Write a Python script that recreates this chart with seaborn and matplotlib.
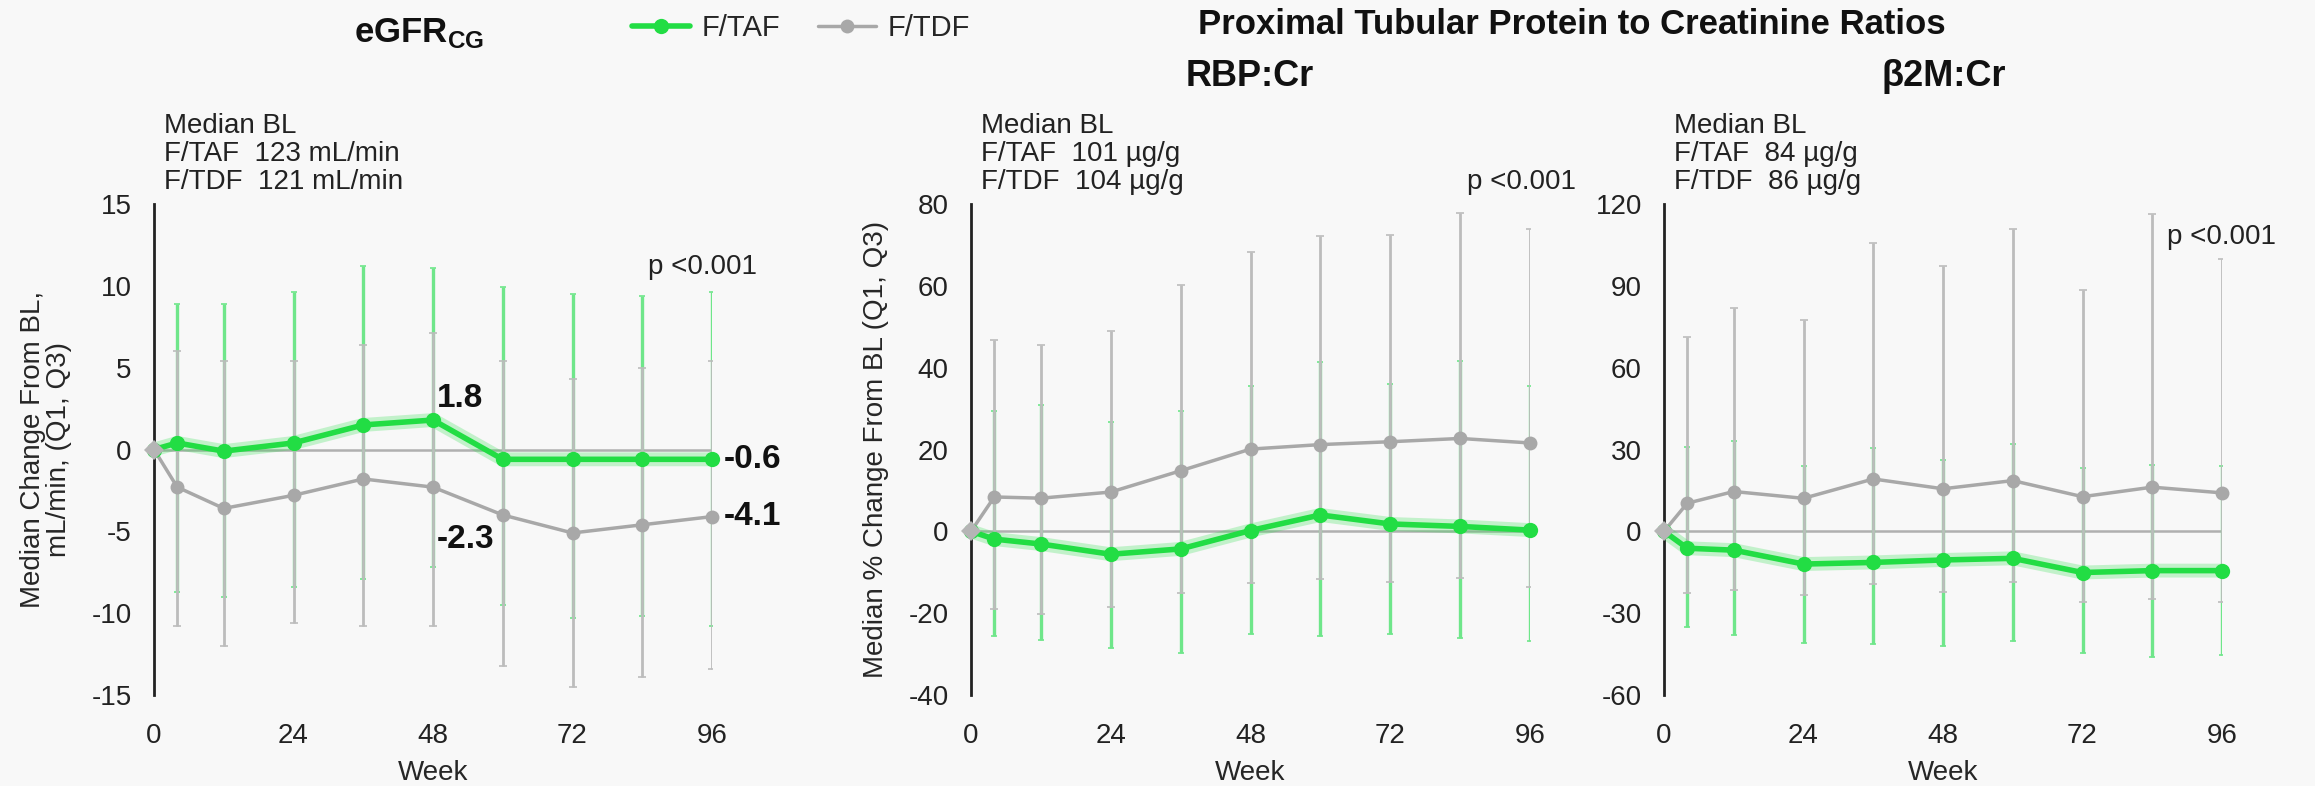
import matplotlib
matplotlib.use('Agg')
import matplotlib.pyplot as plt
from matplotlib.lines import Line2D
import numpy as np
import pandas as pd
import seaborn as sns

# weeks on study
weeks = [0, 4, 12, 24, 36, 48, 60, 72, 84, 96]

# eGFR (CG), median change from BL with Q1/Q3
egfr_taf_med = [0, 0.4, -0.1, 0.4, 1.5, 1.8, -0.6, -0.6, -0.6, -0.6]
egfr_taf_q1 = [0, -8.7, -9.0, -8.4, -7.9, -7.2, -9.5, -10.3, -10.2, -10.8]
egfr_taf_q3 = [0, 8.9, 8.9, 9.6, 11.2, 11.1, 9.9, 9.5, 9.4, 9.6]
egfr_tdf_med = [0, -2.3, -3.6, -2.8, -1.8, -2.3, -4.0, -5.1, -4.6, -4.1]
egfr_tdf_q1 = [0, -10.8, -12.0, -10.6, -10.8, -10.8, -13.2, -14.5, -13.9, -13.4]
egfr_tdf_q3 = [0, 6.0, 5.4, 5.4, 6.4, 7.1, 5.4, 4.3, 5.0, 5.4]

# RBP:Cr, median % change from BL
rbp_taf_med = [0, -1.9, -3.1, -5.6, -4.3, 0.2, 4.0, 1.8, 1.2, 0.3]
rbp_taf_q1 = [0, -25.7, -26.5, -28.5, -29.8, -25.2, -25.7, -25.2, -26.1, -26.9]
rbp_taf_q3 = [0, 29.3, 30.9, 26.8, 29.3, 35.6, 41.3, 36.0, 41.7, 35.6]
rbp_tdf_med = [0, 8.4, 8.1, 9.6, 14.8, 20.1, 21.2, 21.9, 22.7, 21.6]
rbp_tdf_q1 = [0, -19.1, -20.3, -18.5, -15.0, -12.7, -11.6, -12.4, -11.3, -13.5]
rbp_tdf_q3 = [0, 46.7, 45.6, 48.9, 60.1, 68.3, 72.2, 72.4, 77.8, 73.8]

# b2M:Cr, median % change from BL
b2m_taf_med = [0, -6.2, -6.9, -12.0, -11.4, -10.5, -9.9, -15.1, -14.4, -14.4]
b2m_taf_q1 = [0, -35.0, -38.1, -40.8, -41.4, -42.0, -40.2, -44.5, -46.0, -45.4]
b2m_taf_q3 = [0, 30.9, 33.0, 23.8, 30.5, 26.2, 32.1, 23.1, 24.5, 23.8]
b2m_tdf_med = [0, 10.3, 14.6, 12.1, 19.2, 15.6, 18.6, 12.7, 16.2, 14.1]
b2m_tdf_q1 = [0, -22.7, -21.4, -23.4, -19.3, -22.4, -18.5, -25.8, -24.9, -25.8]
b2m_tdf_q3 = [0, 71.4, 81.9, 77.3, 105.7, 97.4, 110.9, 88.4, 116.2, 99.8]

xticks = [0, 24, 48, 72, 96]
egfr_yticks = [-15, -10, -5, 0, 5, 10, 15]
rbp_yticks = [-40, -20, 0, 20, 40, 60, 80]
b2m_yticks = [-60, -30, 0, 30, 60, 90, 120]

egfr_bl = "Median BL\nF/TAF  123 mL/min\nF/TDF  121 mL/min"
rbp_bl = "Median BL\nF/TAF  101 µg/g\nF/TDF  104 µg/g"
b2m_bl = "Median BL\nF/TAF  84 µg/g\nF/TDF  86 µg/g"

GREEN = '#22dd44'
GREEN_BAR = '#6fe68a'
GREY = '#a8a8a8'
GREY_BAR = '#bcbcbc'
BG = '#f8f8f8'

sns.set_style('white')
plt.rcParams['font.family'] = ['Liberation Sans', 'DejaVu Sans']
plt.rcParams['mathtext.fontset'] = 'custom'
plt.rcParams['mathtext.bf'] = 'Liberation Sans:bold'
plt.rcParams['mathtext.rm'] = 'Liberation Sans'
plt.rcParams['axes.unicode_minus'] = False

fig = plt.figure(figsize=(23.15, 7.86), dpi=100, facecolor=BG)


def panel(rect, taf_med, taf_q1, taf_q3, tdf_med, tdf_q1, tdf_q3,
          ylim, yticks, bl_text, p_xy, ylabel):
    ax = fig.add_axes(rect)
    ax.set_facecolor(BG)
    w = np.array(weeks[1:])
    tm, t1, t3 = (np.array(a[1:]) for a in (taf_med, taf_q1, taf_q3))
    dm, d1, d3 = (np.array(a[1:]) for a in (tdf_med, tdf_q1, tdf_q3))

    # Q1-Q3 bars, F/TDF drawn over F/TAF
    ax.errorbar(w, tm, yerr=[tm - t1, t3 - tm], fmt='none', ecolor=GREEN_BAR,
                elinewidth=2.4, capsize=2.5, capthick=1.2, zorder=2)
    ax.errorbar(w, dm, yerr=[dm - d1, d3 - dm], fmt='none', ecolor=GREY_BAR,
                elinewidth=2.0, capsize=3, capthick=1.2, zorder=3)

    ax.plot([weeks[0], weeks[-1]], [0, 0], color='#b0b0b0', lw=1.8, zorder=1)

    df = pd.DataFrame({'week': weeks, 'taf': taf_med, 'tdf': tdf_med})
    sns.lineplot(data=df, x='week', y='tdf', ax=ax, color=GREY, lw=2.5,
                 marker='o', markersize=10, markeredgewidth=0, zorder=4,
                 clip_on=False)
    # soft glow under the F/TAF line
    sns.lineplot(data=df, x='week', y='taf', ax=ax, color=GREEN, lw=10,
                 alpha=0.25, zorder=5, clip_on=False)
    sns.lineplot(data=df, x='week', y='taf', ax=ax, color=GREEN, lw=4,
                 marker='o', markersize=11, markeredgewidth=0, zorder=6,
                 clip_on=False)
    ax.plot(weeks[:1], tdf_med[:1], marker='D', ms=10, color='#b5b5b5',
            mew=0, zorder=7, clip_on=False)

    ax.set_xlim(0, 96)
    ax.set_ylim(*ylim)
    ax.set_xticks(xticks)
    ax.set_yticks(yticks)
    ax.set_xlabel('Week', fontsize=20, labelpad=8)
    ax.set_ylabel(ylabel, fontsize=20, labelpad=14, linespacing=1.0)
    for s in ('top', 'right', 'bottom'):
        ax.spines[s].set_visible(False)
    ax.spines['left'].set_color('#222222')
    ax.spines['left'].set_linewidth(2)
    ax.tick_params(axis='y', direction='out', length=8, width=1.5,
                   color='#333333', labelsize=20, pad=8, labelcolor='#222222')
    ax.tick_params(axis='x', direction='out', length=8, width=2.5,
                   color='#333333', labelsize=20, pad=12, labelcolor='#222222')
    ax.grid(False)

    ax.text(0.018, 1.185, bl_text, transform=ax.transAxes, ha='left',
            va='top', fontsize=20, linespacing=1.1, color='#222222')
    ax.text(p_xy[0], p_xy[1], 'p <0.001', transform=ax.transAxes,
            ha='left', va='center', fontsize=20, color='#222222')
    return ax


top = 1 - 204 / 786
bot = 1 - 695 / 786
h = top - bot

ax1 = panel([154 / 2315, bot, 558 / 2315, h],
            egfr_taf_med, egfr_taf_q1, egfr_taf_q3,
            egfr_tdf_med, egfr_tdf_q1, egfr_tdf_q3,
            (-15, 15), egfr_yticks, egfr_bl, (0.885, 0.872),
            'Median Change From BL,\nmL/min, (Q1, Q3)')
ax2 = panel([971 / 2315, bot, 559 / 2315, h],
            rbp_taf_med, rbp_taf_q1, rbp_taf_q3,
            rbp_tdf_med, rbp_tdf_q1, rbp_tdf_q3,
            (-40, 80), rbp_yticks, rbp_bl, (0.887, 1.045),
            'Median % Change From BL (Q1, Q3)')
ax3 = panel([1664 / 2315, bot, 558 / 2315, h],
            b2m_taf_med, b2m_taf_q1, b2m_taf_q3,
            b2m_tdf_med, b2m_tdf_q1, b2m_tdf_q3,
            (-60, 120), b2m_yticks, b2m_bl, (0.901, 0.933), '')

# value callouts on the eGFR panel
lab = dict(fontsize=24, fontweight='bold', color='#111111', va='center',
           ha='left', annotation_clip=False)
ax1.annotate(f'{egfr_taf_med[5]:.1f}', (weeks[5], egfr_taf_med[5]),
             xytext=(4, 22), textcoords='offset pixels', **lab)
ax1.annotate(f'{egfr_tdf_med[5]:.1f}', (weeks[5], egfr_tdf_med[5]),
             xytext=(4, -52), textcoords='offset pixels', **lab)
ax1.annotate(f'{egfr_taf_med[-1]:.1f}', (weeks[-1], egfr_taf_med[-1]),
             xytext=(12, 0), textcoords='offset pixels', **lab)
ax1.annotate(f'{egfr_tdf_med[-1]:.1f}', (weeks[-1], egfr_tdf_med[-1]),
             xytext=(12, 0), textcoords='offset pixels', **lab)

# titles
fig.text(419 / 2315, 1 - 33 / 786, r'$\mathbf{eGFR}_{\mathbf{CG}}$',
         ha='center', va='center', fontsize=25, color='#111111')
fig.text(1572 / 2315, 1 - 25 / 786,
         'Proximal Tubular Protein to Creatinine Ratios',
         ha='center', va='center', fontsize=25, fontweight='bold',
         color='#111111')
fig.text(1250 / 2315, 1 - 76 / 786, 'RBP:Cr', ha='center', va='center',
         fontsize=26, fontweight='bold', color='#111111')
fig.text(1944 / 2315, 1 - 76 / 786, 'β2M:Cr', ha='center', va='center',
         fontsize=26, fontweight='bold', color='#111111')

handles = [Line2D([], [], color=GREEN, lw=4, marker='o', ms=11, mew=0),
           Line2D([], [], color=GREY, lw=2.5, marker='o', ms=10, mew=0)]
fig.legend(handles, ['F/TAF', 'F/TDF'], loc='center',
           bbox_to_anchor=(801 / 2315, 1 - 28 / 786), ncol=2, frameon=False,
           fontsize=21, handlelength=2.0, handletextpad=0.4,
           columnspacing=1.3)

fig.savefig('out.png', dpi=100, facecolor=BG)
